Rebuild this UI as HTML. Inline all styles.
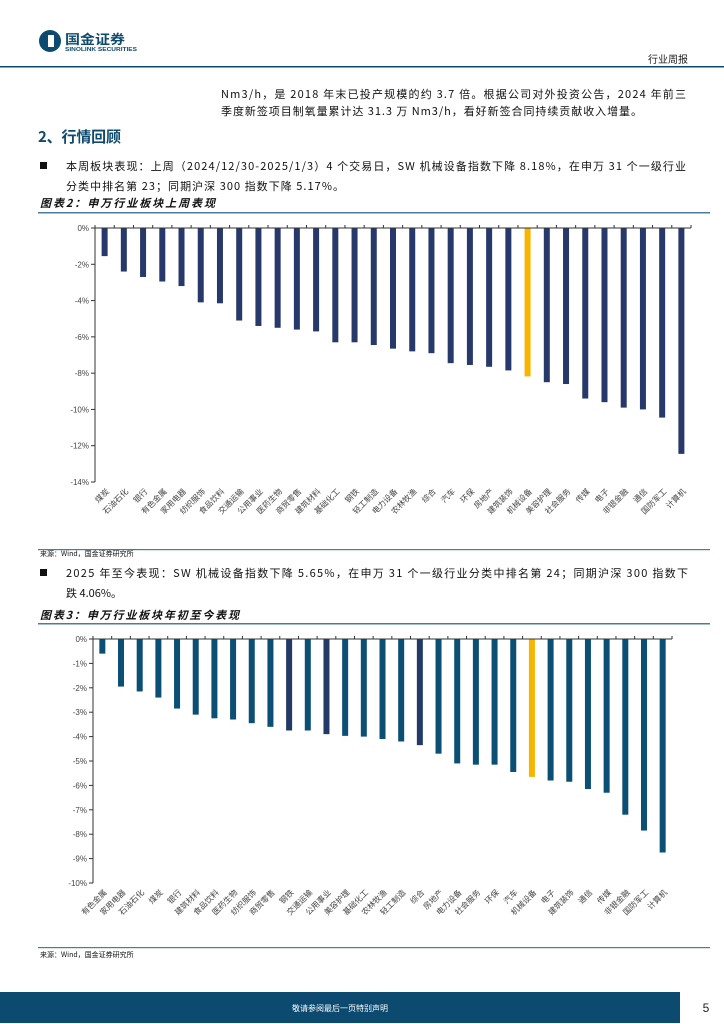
<!DOCTYPE html>
<html><head><meta charset="utf-8">
<style>
body{margin:0;background:#fff;}
svg{display:block;font-family:"Liberation Sans","Noto Sans CJK SC",sans-serif;}
</style></head>
<body>
<svg id="page" width="724" height="1024" viewBox="0 0 724 1024">
<g>
 <circle cx="50" cy="41" r="11" fill="#0c4a70"/>
 <rect x="48" y="35" width="6" height="12" fill="#fff"/>
 <text x="65" y="44" font-size="13" font-weight="bold" fill="#0c4a70" font-family="Noto Sans CJK SC,sans-serif" textLength="60" lengthAdjust="spacingAndGlyphs">国金证券</text>
 <text x="65" y="51" font-size="5" font-weight="bold" fill="#0c4a70" textLength="72" lengthAdjust="spacingAndGlyphs">SINOLINK SECURITIES</text>
 <text x="688" y="63" font-size="10" text-anchor="end" fill="#222" font-family="Noto Sans CJK SC,sans-serif">行业周报</text>
 <rect x="0" y="66" width="724" height="1.5" fill="#0c4a70"/>
</g>
<g font-family="Noto Sans CJK SC,sans-serif" font-size="11" fill="#111">
 <text x="221" y="98" textLength="465" lengthAdjust="spacing">Nm3/h，是 2018 年末已投产规模的约 3.7 倍。根据公司对外投资公告，2024 年前三</text>
 <text x="221" y="115" textLength="421" lengthAdjust="spacing">季度新签项目制氧量累计达 31.3 万 Nm3/h，看好新签合同持续贡献收入增量。</text>
 <text x="38" y="142" font-size="15" font-weight="bold" fill="#0c4a70" textLength="83" lengthAdjust="spacing">2、行情回顾</text>
 <rect x="40" y="162" width="7" height="7" fill="#111"/>
 <text x="66" y="170" textLength="620" lengthAdjust="spacing">本周板块表现：上周（2024/12/30-2025/1/3）4 个交易日，SW 机械设备指数下降 8.18%，在申万 31 个一级行业</text>
 <text x="66" y="190" textLength="278" lengthAdjust="spacing">分类中排名第 23；同期沪深 300 指数下降 5.17%。</text>
 <text x="40" y="207" font-size="11" font-weight="bold" font-style="italic" textLength="175" lengthAdjust="spacing">图表2：申万行业板块上周表现</text>
 <rect x="38" y="212" width="672" height="1.5" fill="#4d7c99"/>
 <rect x="38" y="549" width="672" height="1.2" fill="#4d7c99"/>
 <text x="40" y="556" font-size="7">来源：Wind，国金证券研究所</text>
 <rect x="40" y="569" width="7" height="7" fill="#111"/>
 <text x="66" y="577" textLength="622" lengthAdjust="spacing">2025 年至今表现：SW 机械设备指数下降 5.65%，在申万 31 个一级行业分类中排名第 24；同期沪深 300 指数下</text>
 <text x="66" y="597">跌 4.06%。</text>
 <text x="40" y="619" font-size="11" font-weight="bold" font-style="italic" textLength="199" lengthAdjust="spacing">图表3：申万行业板块年初至今表现</text>
 <rect x="38" y="623" width="672" height="1.5" fill="#4d7c99"/>
 <rect x="38" y="947" width="672" height="1.2" fill="#4d7c99"/>
 <text x="40" y="957" font-size="7">来源：Wind，国金证券研究所</text>
</g>
<g id="chart1"></g>
<g id="chart2"></g>
<g>
 <rect x="0" y="992" width="680" height="31" fill="#0c4a70"/>
 <text x="340" y="1011" font-size="8" fill="#fff" text-anchor="middle" font-family="Noto Sans CJK SC,sans-serif">敬请参阅最后一页特别声明</text>
 <text x="706" y="1012" font-size="12" fill="#222" text-anchor="middle">5</text>
</g>
</svg>
<script>
const cats1 = ["煤炭","石油石化","银行","有色金属","家用电器","纺织服饰","食品饮料","交通运输","公用事业","医药生物","商贸零售","建筑材料","基础化工","钢铁","轻工制造","电力设备","农林牧渔","综合","汽车","环保","房地产","建筑装饰","机械设备","美容护理","社会服务","传媒","电子","非银金融","通信","国防军工","计算机"];
const vals1 = [-1.55,-2.4,-2.7,-2.95,-3.2,-4.1,-4.15,-5.1,-5.4,-5.5,-5.6,-5.7,-6.3,-6.3,-6.45,-6.65,-6.8,-6.9,-7.45,-7.55,-7.65,-7.85,-8.18,-8.5,-8.6,-9.4,-9.6,-9.9,-10.0,-10.45,-12.45];
const ticks1 = [0,-2,-4,-6,-8,-10,-12,-14];
const cats2 = ["有色金属","家用电器","石油石化","煤炭","银行","建筑材料","食品饮料","医药生物","纺织服饰","商贸零售","钢铁","交通运输","公用事业","美容护理","基础化工","农林牧渔","轻工制造","综合","房地产","电力设备","社会服务","环保","汽车","机械设备","电子","建筑装饰","通信","传媒","非银金融","国防军工","计算机"];
const vals2 = [-0.6,-1.95,-2.15,-2.4,-2.85,-3.1,-3.25,-3.3,-3.45,-3.6,-3.75,-3.75,-3.9,-3.97,-4.0,-4.1,-4.2,-4.35,-4.7,-5.1,-5.15,-5.15,-5.45,-5.65,-5.8,-5.85,-6.15,-6.3,-7.2,-7.85,-8.75];
const ticks2 = [0,-1,-2,-3,-4,-5,-6,-7,-8,-9,-10];
const NS='http://www.w3.org/2000/svg';
function mk(tag,attrs,parent){const e=document.createElementNS(NS,tag);for(const k in attrs)e.setAttribute(k,attrs[k]);parent.appendChild(e);return e;}
function draw(gid,cats,vals,ticks,x0,x1,y0,y1,minV,color,barW,hl){
 const g=document.getElementById(gid);
 const yS=v=>y0+(v/minV)*(y1-y0);
 const step=(x1-x0)/cats.length;
 const xS=i=>x0+step*(i+0.5);
 mk('line',{x1:x0,y1:y0,x2:x0,y2:y1,stroke:'#333','stroke-width':1},g);
 ticks.forEach(t=>{
  mk('line',{x1:x0-4,y1:yS(t),x2:x0,y2:yS(t),stroke:'#333'},g);
  const tx=mk('text',{x:x0-6,y:yS(t)+3,'font-size':8,fill:'#444','text-anchor':'end'},g);
  tx.textContent=t+'%';
  
  
 });
 cats.forEach((c,i)=>{
  const v=vals[i];
  const r=mk('rect',{x:xS(i)-barW/2,y:y0,width:barW,height:yS(v)-y0,fill:c===hl?'#f7b500':color(i)},g);
  
  
  const t=mk('text',{'font-size':8,fill:'#444','text-anchor':'end','font-family':'Noto Sans CJK SC,sans-serif',transform:`translate(${xS(i)+5},${y1+10}) rotate(-45)`},g);
  t.textContent=c;
  
  
 });
 mk('line',{x1:x0,y1:y0,x2:x1,y2:y0,stroke:'#333','stroke-width':1},g);
 for(let i=0;i<=cats.length;i++) mk('line',{x1:x0+step*i,y1:y0-3,x2:x0+step*i,y2:y0,stroke:'#333'},g);
}
draw('chart1',cats1,vals1,ticks1,95,691,228,482,-14,()=>'#27396b',6,'机械设备');
const navy2=["钢铁","公用事业","综合"];
draw('chart2',cats2,vals2,ticks2,93,672,639,883,-10,i=>navy2.includes(cats2[i])?'#243a66':'#0b4f74',6,'机械设备');
</script>
</body></html>
